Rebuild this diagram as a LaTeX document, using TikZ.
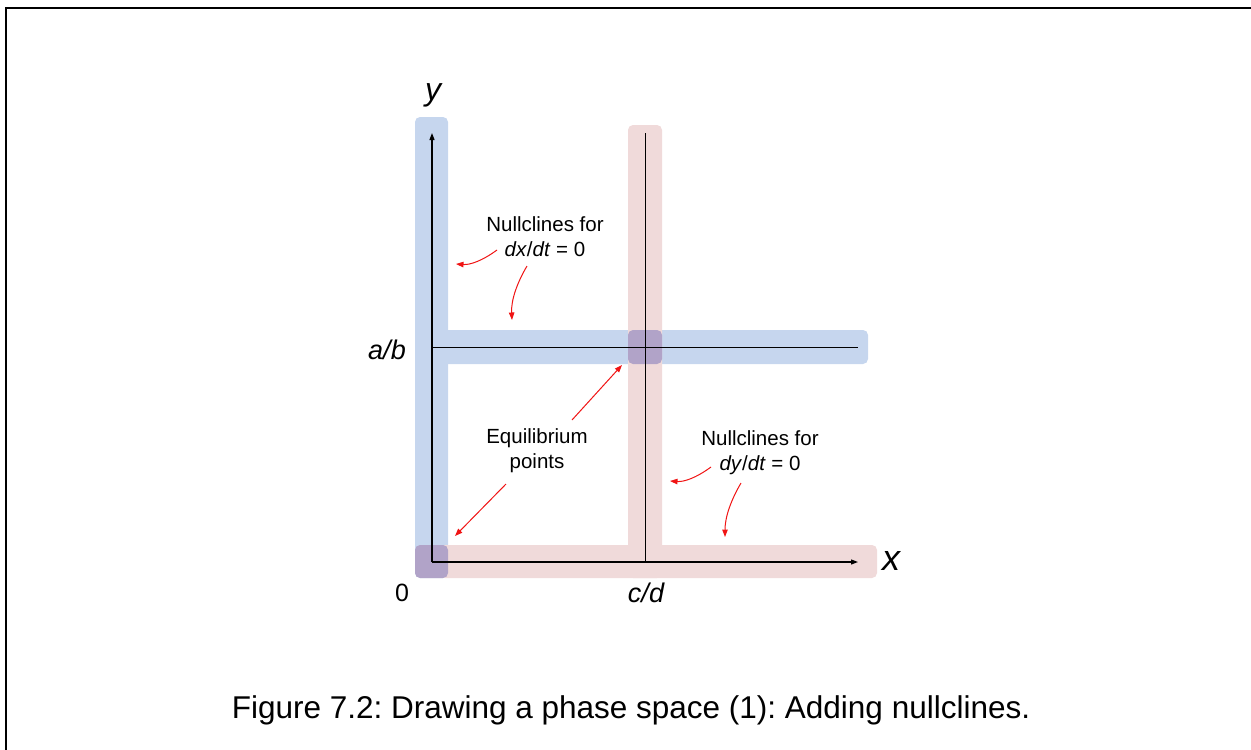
\documentclass[tikz,border=0pt]{standalone}
\usepackage{fontspec}
\setmainfont{Liberation Sans}
\usetikzlibrary{arrows.meta}
\frenchspacing
\definecolor{bandblue}{RGB}{198,214,238}
\definecolor{bandpink}{RGB}{240,218,218}
\definecolor{bandpurple}{RGB}{177,163,200}
\definecolor{arrred}{RGB}{240,20,20}
\begin{document}
\begin{tikzpicture}[x=1pt,y=-1pt,
  axis/.style={line width=1.2pt,-{Triangle[length=7pt,width=5pt]}},
  guide/.style={line width=1pt},
  note/.style={color=arrred,line width=1pt,-{Triangle[length=7.5pt,width=5.5pt]}},
  lbl/.style={inner sep=0pt,font=\fontsize{27}{30}\selectfont\itshape},
  ann/.style={inner sep=0pt,align=center,font=\fontsize{20.5}{25}\selectfont}]
\useasboundingbox (0,0) rectangle (1251,750);
% frame
\draw[line width=2pt] (6,751) -- (6,8) -- (1252,8);
% blue bands
\fill[bandblue,rounded corners=5pt] (415,117) rectangle (448,578);
\fill[bandblue,rounded corners=5pt] (440,330) rectangle (868,364);
% pink bands
\fill[bandpink,rounded corners=5pt] (628,125) rectangle (662,578);
\fill[bandpink,rounded corners=5pt] (440,545) rectangle (877,578);
% overlaps
\fill[bandpurple,rounded corners=5pt] (415,545) rectangle (448,578);
\fill[bandpurple,rounded corners=5pt] (628,330) rectangle (662,364);
% axes
\coordinate (O) at (432,562);
\coordinate (ytop) at (432,133);
\coordinate (xend) at (858,562);
\draw[axis] (O) -- (ytop);
\draw[axis] (O) -- (xend);
\coordinate (ab0) at (432,347);
\coordinate (ab1) at (858,347);
\draw[guide] (ab0) -- (ab1);
\coordinate (cd0) at (645,133);
\coordinate (cd1) at (645,562);
\draw[guide] (cd0) -- (cd1);
% labels
\node[lbl,font=\fontsize{32}{34}\selectfont\itshape] (ylab) at (433,95) {y};
\node[lbl,font=\fontsize{36}{38}\selectfont\itshape] (xlab) at (891,561) {x};
\node[lbl] (ablab) at (387,350) {a/b};
\node[lbl,font=\fontsize{25}{30}\selectfont] (zlab) at (402,593) {0};
\node[lbl] (cdlab) at (646,593) {c/d};
% annotations
\node[ann] (nx) at (545,237) {Nullclines for\\\textit{dx}/\textit{dt} = 0};
\node[ann] (eq) at (537,451) {Equilibrium\\points};
\node[ann] (ny) at (760,453) {Nullclines for\\\textit{dy}/\textit{dt} = 0};
% annotation arrows
\coordinate (nxa0) at (497,250); \coordinate (nxa1) at (456,264);
\coordinate (nxb0) at (527,266); \coordinate (nxb1) at (512,320);
\draw[note] (nxa0) .. controls (482,261) and (470,265) .. (nxa1);
\draw[note] (nxb0) .. controls (517,283) and (511,300) .. (nxb1);
\coordinate (eqa0) at (572,420); \coordinate (eqa1) at (622,365);
\coordinate (eqb0) at (506,484); \coordinate (eqb1) at (455,536);
\draw[note] (eqa0) -- (eqa1);
\draw[note] (eqb0) -- (eqb1);
\coordinate (nya0) at (711,467); \coordinate (nya1) at (670,481);
\coordinate (nyb0) at (741,483); \coordinate (nyb1) at (725,537);
\draw[note] (nya0) .. controls (696,478) and (684,482) .. (nya1);
\draw[note] (nyb0) .. controls (731,500) and (725,517) .. (nyb1);
% caption
\node[inner sep=0pt,font=\fontsize{31.5}{36}\selectfont] (cap) at (631,710) {Figure 7.2: Drawing a phase space (1): Adding nullclines.};
\end{tikzpicture}
\end{document}
